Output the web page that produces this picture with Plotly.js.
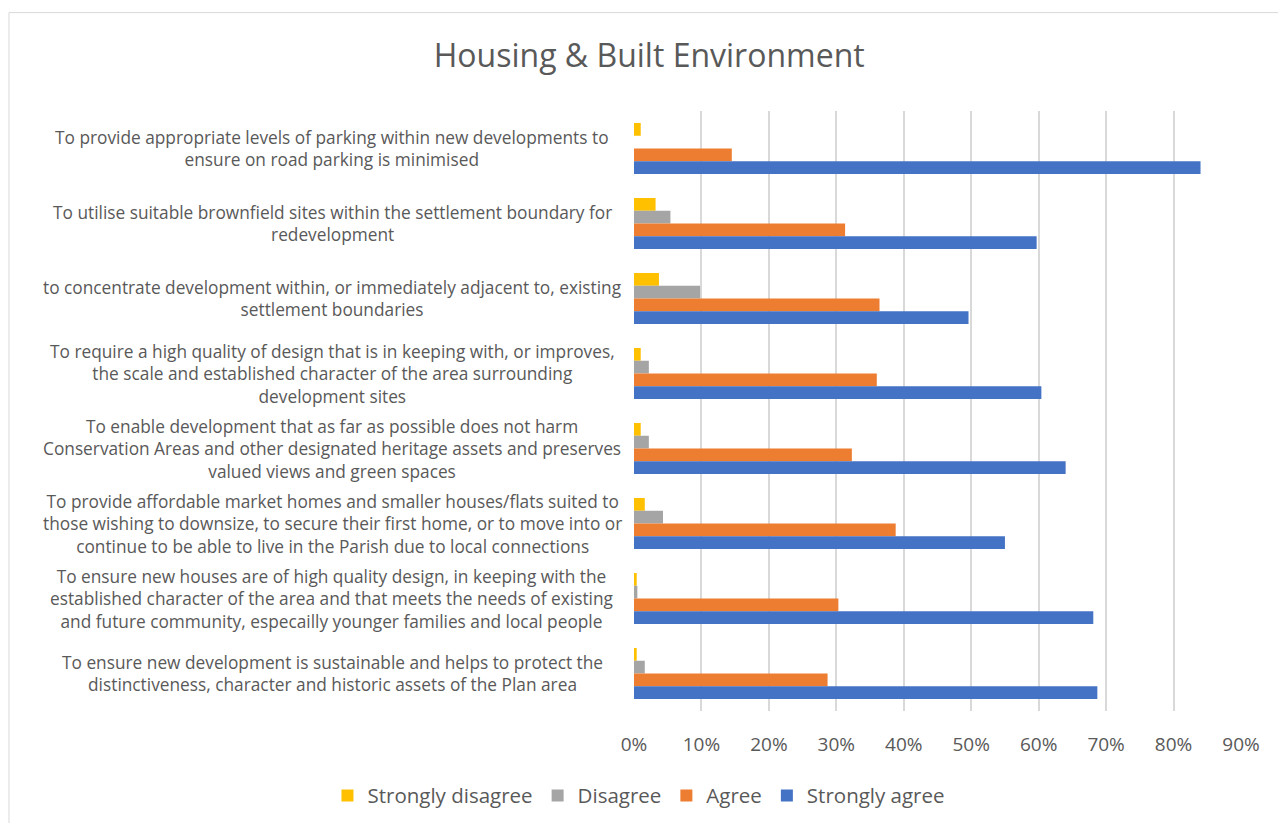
<!DOCTYPE html>
<html>
<head>
<meta charset="utf-8">
<script src="https://cdn.plot.ly/plotly-3.0.1.min.js"></script>
<style>html,body{margin:0;padding:0;background:#fff;}#chart{width:1278px;height:823px;}</style>
</head>
<body>
<div id="chart"></div>
<script>
const categories = [
  "To provide appropriate levels of parking within new developments to<br>ensure on road parking is minimised",
  "To utilise suitable brownfield sites within the settlement boundary for<br>redevelopment",
  "to concentrate development within, or immediately adjacent to, existing<br>settlement boundaries",
  "To require a high quality of design that is in keeping with, or improves,<br>the scale and established character of the area surrounding<br>development sites",
  "To enable development that as far as possible does not harm<br>Conservation Areas and other designated heritage assets and preserves<br>valued views and green spaces",
  "To provide affordable market homes and smaller houses/flats suited to<br>those wishing to downsize, to secure their first home, or to move into or<br>continue to be able to live in the Parish due to local connections",
  "To ensure new houses are of high quality design, in keeping with the<br>established character of the area and that meets the needs of existing<br>and future community, especailly younger families and local people",
  "To ensure new development is sustainable and helps to protect the<br>distinctiveness, character and historic assets of the Plan area"
];
const seriesNames = ["Strongly disagree", "Disagree", "Agree", "Strongly agree"];
const stronglyDisagree = [1.0, 3.2, 3.7, 1.0, 1.0, 1.6, 0.4, 0.4];
const disagree         = [0.0, 5.4, 9.8, 2.2, 2.2, 4.3, 0.5, 1.6];
const agree            = [14.5, 31.3, 36.4, 36.0, 32.3, 38.8, 30.3, 28.7];
const stronglyAgree    = [84.0, 59.7, 49.6, 60.4, 64.0, 55.0, 68.1, 68.7];
const xTicks = [0, 10, 20, 30, 40, 50, 60, 70, 80, 90];

const colors = ["#FFC000", "#A5A5A5", "#ED7D31", "#4472C4"];
const values = [stronglyDisagree, disagree, agree, stronglyAgree];
const ids = categories.map((c, i) => "c" + i);

const traces = values.map((v, i) => ({
  type: "bar",
  orientation: "h",
  name: seriesNames[i],
  x: v,
  y: ids,
  marker: {color: colors[i]},
  hoverinfo: "x+name"
}));

const FONT = "Open Sans, sans-serif";
const txt = "#595959";

const annotations = categories.map((c, i) => ({
  text: c,
  xref: "paper", yref: "y",
  x: -0.497, y: ids[i],
  xanchor: "center", yanchor: "middle",
  align: "center",
  showarrow: false,
  font: {family: FONT, size: 17.3, color: txt}
}));

const layout = {
  width: 1278, height: 823,
  paper_bgcolor: "#fff", plot_bgcolor: "#fff",
  margin: {l: 634, r: 37, t: 111, b: 112, autoexpand: false},
  title: {text: "Housing & Built Environment", font: {family: FONT, size: 32, color: txt},
          x: 0.508, xref: "container", xanchor: "center", y: 0.932, yref: "container", yanchor: "middle"},
  barmode: "group",
  bargap: 0.32,
  bargroupgap: 0,
  xaxis: {
    range: [0, 90], tickvals: xTicks, ticktext: xTicks.map(t => t + "%"),
    showgrid: true, gridcolor: "#d9d9d9", gridwidth: 1.5,
    zeroline: false, showline: false, ticks: "",
    ticklabelstandoff: 20,
    tickfont: {family: FONT, size: 19, color: txt},
    fixedrange: true
  },
  yaxis: {
    autorange: "reversed", showticklabels: false, showgrid: false,
    zeroline: false, showline: false, ticks: "", fixedrange: true
  },
  legend: {
    orientation: "h", xref: "paper", yref: "paper",
    x: -0.505, xanchor: "left", y: -0.141, yanchor: "middle",
    font: {family: FONT, size: 20.5, color: txt},
    itemwidth: 30,
    traceorder: "normal"
  },
  annotations: annotations,
  shapes: [{
    type: "rect", xref: "paper", yref: "paper",
    x0: -1.0297, x1: 1.1, y0: -0.25, y1: 1.164,
    line: {color: "#d9d9d9", width: 1}, fillcolor: "rgba(0,0,0,0)", layer: "below"
  }]
};

Plotly.newPlot("chart", traces, layout, {displayModeBar: false, responsive: false});
</script>
</body>
</html>
